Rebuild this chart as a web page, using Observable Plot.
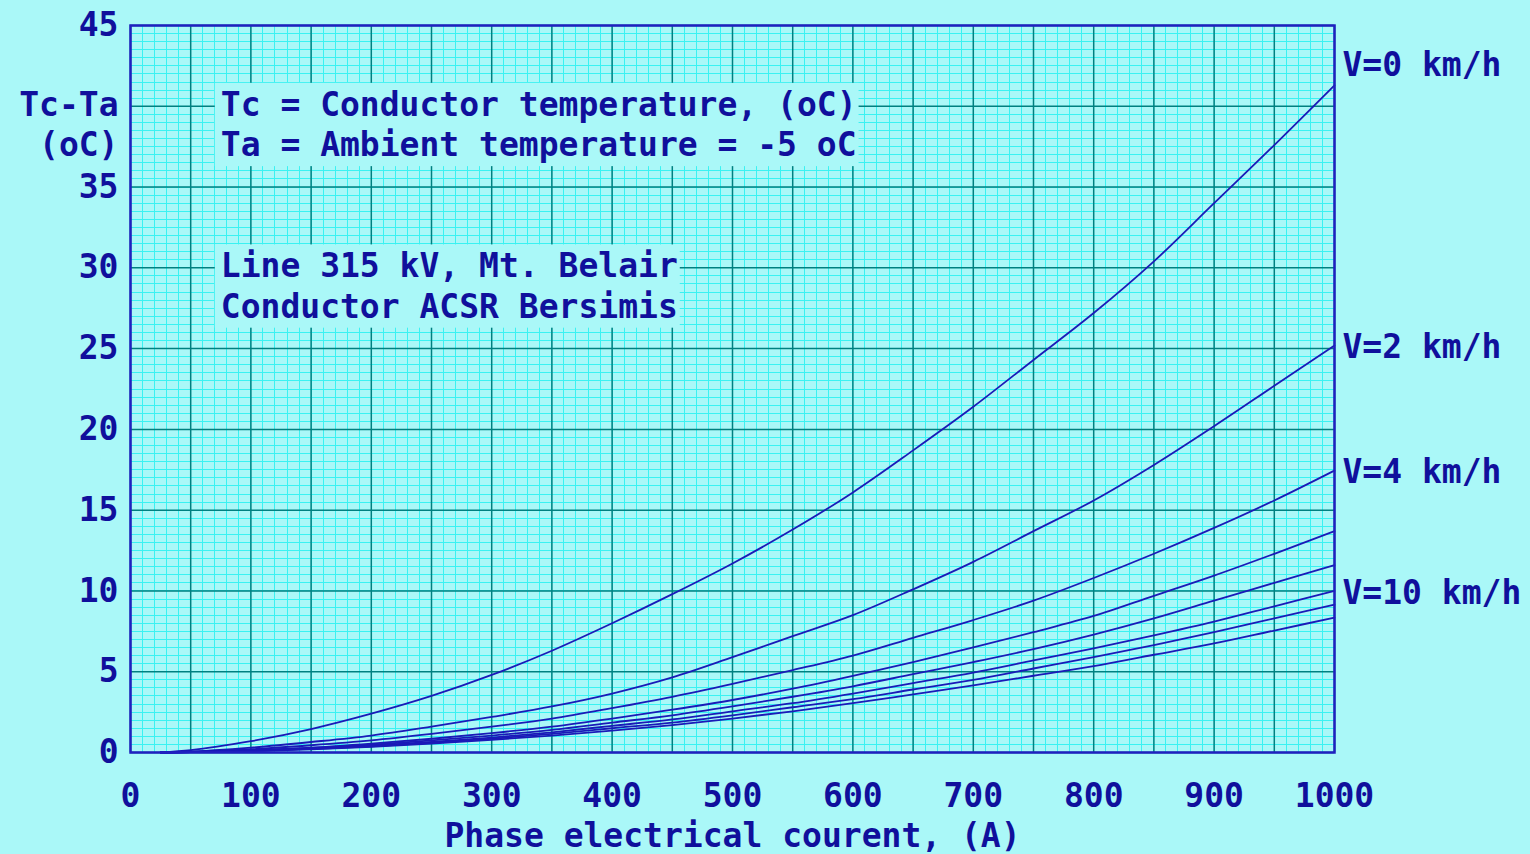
<!DOCTYPE html>
<html><head><meta charset="utf-8">
<script src="https://cdn.jsdelivr.net/npm/d3@7"></script>
<script src="https://cdn.jsdelivr.net/npm/@observablehq/plot@0.6"></script>
<style>
html,body{margin:0;padding:0;background:#aaf8f8;}
#chart svg text{white-space:pre;}
</style></head><body><div id="chart"></div>
<script>
// Phase current (A)
const currents = [25, 50, 100, 150, 200, 250, 300, 350, 400, 450, 500, 550, 600, 650, 700, 750, 800, 850, 900, 950, 1000];
// Tc - Ta (oC) for each wind speed (km/h)
const v0  = [0, 0.15, 0.7, 1.45, 2.4, 3.5, 4.8, 6.3, 8.0, 9.8, 11.7, 13.8, 16.1, 18.7, 21.4, 24.3, 27.2, 30.4, 34.0, 37.6, 41.3];
const v2  = [0, 0.05, 0.3, 0.65, 1.05, 1.6, 2.2, 2.85, 3.65, 4.65, 5.9, 7.2, 8.5, 10.1, 11.8, 13.7, 15.6, 17.8, 20.2, 22.7, 25.2];
const v4  = [0, 0.05, 0.2, 0.45, 0.75, 1.15, 1.6, 2.1, 2.75, 3.45, 4.25, 5.1, 6.0, 7.1, 8.2, 9.4, 10.8, 12.3, 13.9, 15.6, 17.45];
const v6  = [0, 0.03, 0.15, 0.3, 0.55, 0.85, 1.2, 1.6, 2.1, 2.65, 3.25, 3.95, 4.75, 5.6, 6.5, 7.45, 8.45, 9.7, 10.95, 12.3, 13.7];
const v8  = [0, 0.03, 0.12, 0.28, 0.48, 0.75, 1.05, 1.4, 1.85, 2.3, 2.85, 3.45, 4.1, 4.85, 5.6, 6.4, 7.3, 8.3, 9.4, 10.5, 11.6];
const v10 = [0, 0.02, 0.1, 0.24, 0.42, 0.65, 0.92, 1.25, 1.65, 2.05, 2.55, 3.05, 3.65, 4.3, 4.95, 5.7, 6.45, 7.25, 8.1, 9.05, 10.0];
const v12 = [0, 0.02, 0.09, 0.22, 0.38, 0.6, 0.85, 1.15, 1.5, 1.85, 2.3, 2.8, 3.3, 3.9, 4.5, 5.2, 5.9, 6.65, 7.45, 8.3, 9.15];
const v14 = [0, 0.02, 0.08, 0.2, 0.35, 0.55, 0.78, 1.05, 1.35, 1.7, 2.1, 2.55, 3.05, 3.6, 4.15, 4.75, 5.35, 6.05, 6.75, 7.55, 8.35];
const speeds = [0, 2, 4, 6, 8, 10, 12, 14];
const seriesValues = [v0, v2, v4, v6, v8, v10, v12, v14];
const labelledSpeeds = [0, 2, 4, 10];
const speedLabels = ["V=0 km/h", "V=2 km/h", "V=4 km/h", "V=10 km/h"];
const xTicks = [0, 100, 200, 300, 400, 500, 600, 700, 800, 900, 1000];
const yTicks = [0, 5, 10, 15, 20, 25, 30, 35, 45];
const yTitle = "Tc-Ta\n(oC)";
const xTitle = "Phase electrical courent, (A)";
const note1 = "Tc = Conductor temperature, (oC)\nTa = Ambient temperature = -5 oC";
const note2 = "Line 315 kV, Mt. Belair\nConductor ACSR Bersimis";

const rows = [];
speeds.forEach((v, i) => currents.forEach((c, j) => rows.push({V: v, I: c, T: seriesValues[i][j]})));
const ends = labelledSpeeds.map((v, k) => ({V: v, I: 1000, T: seriesValues[speeds.indexOf(v)][currents.length - 1], label: speedLabels[k]}));

const ink = "#10109c";
const lineColor = "#1a1ab8";
const bg = "#aaf8f8";
const fs = 33;

const plot = Plot.plot({
  width: 1530, height: 854,
  marginLeft: 130, marginRight: 196, marginTop: 25, marginBottom: 102,
  style: {background: bg, color: ink, fontFamily: "'DejaVu Sans Mono', monospace", fontWeight: "bold", fontSize: fs + "px"},
  x: {domain: [0, 1000]},
  y: {domain: [0, 45]},
  marks: [
    Plot.gridX(d3.range(0, 1001, 10), {stroke: "#3af2f2", strokeOpacity: 1, strokeWidth: 1, shapeRendering: "crispEdges"}),
    Plot.gridY(d3.range(0, 45.01, 0.5), {stroke: "#3af2f2", strokeOpacity: 1, strokeWidth: 1, shapeRendering: "crispEdges"}),
    Plot.gridX(d3.range(0, 1001, 50), {stroke: "#008080", strokeOpacity: 1, strokeWidth: 1.5}),
    Plot.gridY(d3.range(0, 45.01, 5), {stroke: "#008080", strokeOpacity: 1, strokeWidth: 1.5}),
    Plot.text([note1], {x: 75, y: 40, text: d => d, textAnchor: "start", lineAnchor: "top", lineHeight: 1.22, dy: -19, fontSize: fs, fill: ink, className: "note"}),
    Plot.text([note2], {x: 75, y: 30, text: d => d, textAnchor: "start", lineAnchor: "top", lineHeight: 1.22, dy: -19, fontSize: fs, fill: ink, className: "note"}),
    Plot.line(rows, {x: "I", y: "T", z: "V", stroke: lineColor, strokeWidth: 1.8, curve: "monotone-x"}),
    Plot.frame({stroke: "#2020c0", strokeWidth: 2.5}),
    Plot.axisX({ticks: xTicks, tickSize: 0, tickPadding: 31, fontSize: fs, label: null, tickFormat: d => String(d)}),
    Plot.axisY({ticks: yTicks, tickSize: 0, tickPadding: 12, fontSize: fs, label: null, tickFormat: d => String(d)}),
    Plot.text([yTitle], {frameAnchor: "left", y: 40, text: d => d, textAnchor: "end", lineAnchor: "top", lineHeight: 1.22, dx: -12, dy: -19, fontSize: fs, fill: ink}),
    Plot.text([xTitle], {frameAnchor: "bottom", text: d => d, dy: 84, lineAnchor: "middle", fontSize: fs, fill: ink, className: "xtitle"}),
    Plot.text(ends.filter(d => d.V === 0), {x: "I", y: "T", text: "label", textAnchor: "start", dx: 8, dy: -20, fontSize: fs, fill: ink}),
    Plot.text(ends.filter(d => d.V !== 0), {x: "I", y: "T", text: "label", textAnchor: "start", dx: 8, dy: 2, fontSize: fs, fill: ink})
  ]
});
document.getElementById("chart").appendChild(plot);
// background boxes behind the note texts (sized from the rendered text)
plot.querySelectorAll("g.note text").forEach(t => {
  const b = t.getBBox();
  const r = document.createElementNS("http://www.w3.org/2000/svg", "rect");
  r.setAttribute("x", b.x - 6); r.setAttribute("y", b.y - 2);
  r.setAttribute("width", b.width + 8); r.setAttribute("height", b.height + 4);
  r.setAttribute("fill", bg);
  const tr = t.getAttribute("transform");
  if (tr) r.setAttribute("transform", tr);
  t.parentNode.insertBefore(r, t);
});
</script></body></html>
